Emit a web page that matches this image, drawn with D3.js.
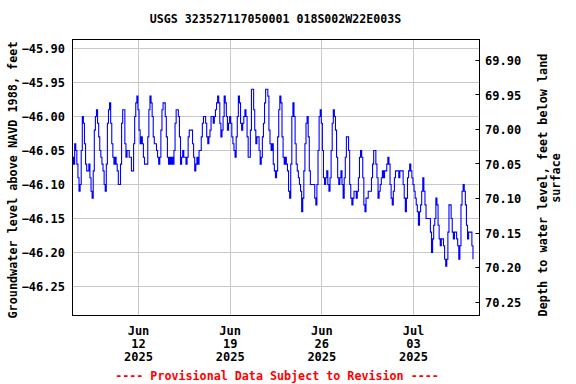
<!DOCTYPE html>
<html>
<head>
<meta charset="utf-8">
<script src="https://cdn.jsdelivr.net/npm/d3@7"></script>
<style>
  html, body { margin: 0; padding: 0; background: #ffffff; }
  svg { display: block; }
  text { font-family: "DejaVu Sans Mono", "Liberation Mono", monospace; }
</style>
</head>
<body>
<svg id="chart" width="576" height="384"></svg>
<script>
// ---------------- data ----------------
const titleText = "USGS 323527117050001 018S002W22E003S";
const leftLabel = "Groundwater level above NAVD 1988, feet";
const rightLabel1 = "Depth to water level, feet below land";
const rightLabel2 = "surface";
const footnote = "---- Provisional Data Subject to Revision ----";

const startTime = "2025-06-06T23:00";   // first reading
const stepHours = 2;                     // spacing of readings
// groundwater level, feet above NAVD 1988 (2-hour steps)
const levels = [
  -46.06,-46.07,-46.04,-46.05,-46.07,-46.09,-46.11,-46.10,-46.05,-46.00,-46.01,-46.04,
  -46.07,-46.08,-46.08,-46.07,-46.09,-46.11,-46.12,-46.08,-46.02,-46.00,-45.99,-46.01,
  -46.03,-46.05,-46.06,-46.07,-46.08,-46.10,-46.11,-46.07,-46.01,-45.99,-45.98,-46.01,
  -46.04,-46.06,-46.07,-46.06,-46.07,-46.08,-46.10,-46.10,-46.07,-46.01,-45.99,-45.99,
  -46.04,-46.06,-46.05,-46.05,-46.06,-46.06,-46.08,-46.08,-46.04,-46.00,-45.98,-45.97,
  -45.99,-46.02,-46.04,-46.03,-46.04,-46.06,-46.07,-46.07,-46.07,-46.03,-45.99,-45.97,
  -45.98,-46.00,-46.03,-46.04,-46.04,-46.05,-46.06,-46.07,-46.06,-46.02,-45.99,-45.98,
  -45.98,-46.00,-46.03,-46.06,-46.07,-46.06,-46.07,-46.06,-46.07,-46.05,-46.01,-45.99,
  -45.99,-46.00,-46.03,-46.07,-46.06,-46.05,-46.06,-46.06,-46.07,-46.06,-46.03,-46.02,
  -46.02,-46.02,-46.04,-46.06,-46.08,-46.07,-46.06,-46.07,-46.05,-46.05,-46.03,-46.01,
  -46.00,-46.00,-46.01,-46.03,-46.04,-46.03,-46.02,-46.00,-46.00,-46.01,-46.00,-45.99,
  -45.98,-45.97,-45.98,-46.01,-46.03,-46.02,-46.00,-45.97,-45.98,-46.00,-46.02,-46.01,
  -46.00,-46.01,-46.03,-46.04,-46.05,-46.06,-46.03,-46.00,-45.97,-45.98,-46.01,-46.02,
  -46.01,-46.00,-45.99,-46.00,-46.03,-46.06,-46.06,-46.02,-45.96,-45.96,-45.99,-46.02,
  -46.04,-46.03,-46.03,-46.05,-46.07,-46.06,-46.03,-46.01,-45.98,-45.96,-45.96,-45.97,
  -46.02,-46.04,-46.05,-46.04,-46.07,-46.08,-46.09,-46.08,-46.03,-45.99,-45.97,-45.98,
  -46.03,-46.06,-46.07,-46.06,-46.07,-46.08,-46.11,-46.12,-46.07,-46.00,-45.98,-46.00,
  -46.04,-46.07,-46.08,-46.09,-46.10,-46.11,-46.14,-46.12,-46.08,-46.04,-46.01,-46.00,
  -46.03,-46.08,-46.10,-46.10,-46.10,-46.10,-46.12,-46.13,-46.10,-46.05,-46.00,-45.99,
  -46.01,-46.05,-46.09,-46.10,-46.09,-46.08,-46.10,-46.11,-46.09,-46.05,-46.01,-45.99,
  -46.00,-46.02,-46.06,-46.09,-46.10,-46.09,-46.08,-46.10,-46.12,-46.09,-46.06,-46.03,
  -46.03,-46.05,-46.10,-46.12,-46.13,-46.12,-46.11,-46.11,-46.12,-46.11,-46.09,-46.06,
  -46.05,-46.06,-46.09,-46.13,-46.14,-46.12,-46.12,-46.11,-46.11,-46.11,-46.09,-46.07,
  -46.05,-46.05,-46.07,-46.09,-46.12,-46.11,-46.10,-46.09,-46.08,-46.09,-46.08,-46.08,
  -46.07,-46.06,-46.07,-46.10,-46.12,-46.13,-46.11,-46.09,-46.08,-46.08,-46.08,-46.09,
  -46.08,-46.08,-46.08,-46.10,-46.12,-46.14,-46.12,-46.09,-46.08,-46.07,-46.08,-46.09,
  -46.10,-46.11,-46.12,-46.13,-46.14,-46.16,-46.14,-46.13,-46.11,-46.09,-46.11,-46.13,
  -46.15,-46.15,-46.15,-46.15,-46.17,-46.20,-46.18,-46.16,-46.15,-46.12,-46.13,-46.16,
  -46.18,-46.19,-46.18,-46.18,-46.19,-46.21,-46.22,-46.21,-46.17,-46.13,-46.13,-46.15,
  -46.17,-46.18,-46.17,-46.17,-46.18,-46.19,-46.21,-46.19,-46.13,-46.11,-46.10,-46.11,
  -46.13,-46.16,-46.18,-46.17,-46.17,-46.17,-46.19,-46.21
];

const leftTicks = [-45.90, -45.95, -46.00, -46.05, -46.10, -46.15, -46.20, -46.25];
const rightTicks = [69.90, 69.95, 70.00, 70.05, 70.10, 70.15, 70.20, 70.25];
const dateTicks = ["2025-06-12", "2025-06-19", "2025-06-26", "2025-07-03"];
const dateTickLabels = [["Jun", "12", "2025"], ["Jun", "19", "2025"], ["Jun", "26", "2025"], ["Jul", "03", "2025"]];

// ---------------- layout ----------------
const plot = { left: 72.5, right: 479.5, top: 39.5, bottom: 315.5 };
const parseT = d3.utcParse("%Y-%m-%dT%H:%M");
const parseD = d3.utcParse("%Y-%m-%d");

const t0 = parseT(startTime);
const series = levels.map((v, i) => ({ t: new Date(t0.getTime() + i * stepHours * 3600e3), v }));

const x = d3.scaleUtc()
  .domain([parseD(dateTicks[0]), parseD(dateTicks[3])])
  .range([138.5, 413.5]);
const y = d3.scaleLinear()
  .domain([leftTicks[0], leftTicks[leftTicks.length - 1]])
  .range([48.5, 286.5]);
const yR = d3.scaleLinear()
  .domain([rightTicks[0], rightTicks[rightTicks.length - 1]])
  .range([60.5, 302]);

const svg = d3.select("#chart");
svg.append("rect").attr("width", 576).attr("height", 384).attr("fill", "#fff");

const grid = svg.append("g").attr("stroke", "#c8c8c8").attr("stroke-width", 1);
grid.selectAll("line.h").data(leftTicks).join("line")
  .attr("x1", plot.left).attr("x2", plot.right)
  .attr("y1", d => Math.round(y(d) - 0.5) + 0.5).attr("y2", d => Math.round(y(d) - 0.5) + 0.5);
grid.selectAll("line.v").data(dateTicks).join("line")
  .attr("y1", plot.top).attr("y2", plot.bottom)
  .attr("x1", d => Math.round(x(parseD(d)) - 0.5) + 0.5).attr("x2", d => Math.round(x(parseD(d)) - 0.5) + 0.5);

// clip
svg.append("clipPath").attr("id", "clip").append("rect")
  .attr("x", plot.left).attr("y", plot.top)
  .attr("width", plot.right - plot.left).attr("height", plot.bottom - plot.top);

const line = d3.line().x(d => x(d.t)).y(d => y(d.v)).curve(d3.curveStepAfter);
svg.append("path").datum(series)
  .attr("clip-path", "url(#clip)")
  .attr("fill", "none").attr("stroke", "#0000ff").attr("stroke-width", 1.1)
  .attr("d", line);

// frame
svg.append("rect")
  .attr("x", plot.left).attr("y", plot.top)
  .attr("width", plot.right - plot.left).attr("height", plot.bottom - plot.top)
  .attr("fill", "none").attr("stroke", "#000").attr("stroke-width", 1);

const fontSize = "12px";
// left axis labels
svg.append("g").selectAll("text").data(leftTicks).join("text")
  .attr("x", 65).attr("y", d => y(d) + 4.5)
  .attr("text-anchor", "end").attr("font-size", fontSize).attr("font-weight", "bold")
  .text(d => d3.format(".2f")(d));

// right axis ticks + labels
svg.append("g").selectAll("line").data(rightTicks).join("line")
  .attr("x1", plot.right - 4).attr("x2", plot.right)
  .attr("y1", d => Math.round(yR(d) - 0.5) + 0.5).attr("y2", d => Math.round(yR(d) - 0.5) + 0.5)
  .attr("stroke", "#000");
svg.append("g").selectAll("text").data(rightTicks).join("text")
  .attr("x", 485).attr("y", d => yR(d) + 4.5)
  .attr("text-anchor", "start").attr("font-size", fontSize).attr("font-weight", "bold")
  .text(d => d3.format(".2f")(d));

// x labels
const xl = svg.append("g");
dateTicks.forEach((d, i) => {
  const cx = x(parseD(d));
  dateTickLabels[i].forEach((s, j) => {
    xl.append("text").attr("x", cx).attr("y", 334.5 + j * 13)
      .attr("text-anchor", "middle").attr("font-size", fontSize).attr("font-weight", "bold")
      .text(s);
  });
});

// title
svg.append("text").attr("x", 275.5).attr("y", 23)
  .attr("text-anchor", "middle").attr("font-size", "11.6px").attr("font-weight", "bold")
  .text(titleText);

// axis titles
svg.append("text").attr("transform", "translate(17,180) rotate(-90)")
  .attr("text-anchor", "middle").attr("font-size", "11.8px").attr("font-weight", "bold")
  .text(leftLabel);
svg.append("text").attr("transform", "translate(547,185) rotate(-90)")
  .attr("text-anchor", "middle").attr("font-size", "11.8px").attr("font-weight", "bold")
  .text(rightLabel1);
svg.append("text").attr("transform", "translate(560,178) rotate(-90)")
  .attr("text-anchor", "middle").attr("font-size", "11.8px").attr("font-weight", "bold")
  .text(rightLabel2);

// footnote
svg.append("text").attr("x", 277).attr("y", 379.5)
  .attr("text-anchor", "middle").attr("font-size", "11.7px").attr("font-weight", "bold")
  .attr("fill", "#ff0000")
  .text(footnote);
</script>
</body>
</html>
